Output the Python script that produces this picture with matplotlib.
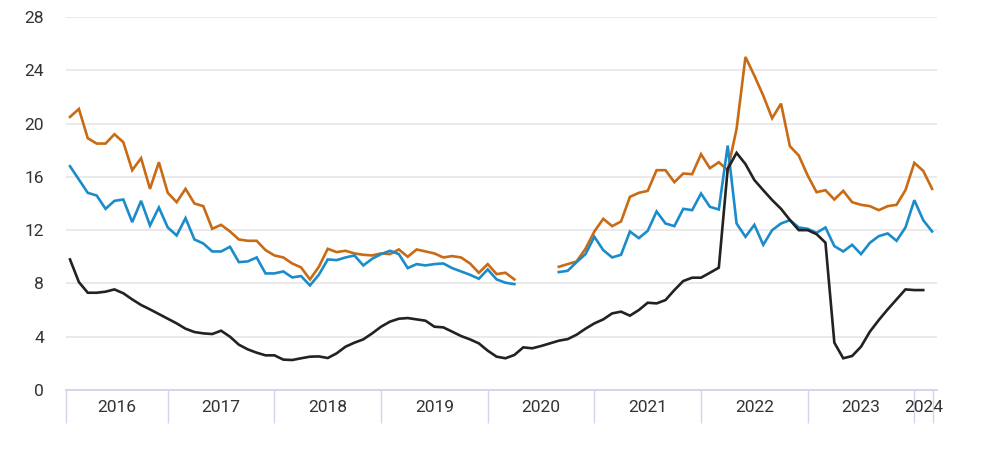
import numpy as np
import pandas as pd
import matplotlib
matplotlib.use("Agg")
import matplotlib.pyplot as plt
from matplotlib.ticker import FixedLocator, NullFormatter

# --- Data: monthly, Feb 2016 .. Mar 2024 ---
months = pd.date_range("2016-02-01", periods=98, freq="MS")
nan = np.nan

orange = [
    20.5, 21.1, 18.9, 18.5, 18.5, 19.2, 18.6, 16.5, 17.4, 15.1, 17.1, 14.8,
    14.1, 15.1, 14.0, 13.8, 12.1, 12.4, 11.9, 11.3, 11.2, 11.2, 10.5, 10.1,
    9.95, 9.5, 9.2, 8.3, 9.25, 10.6, 10.35, 10.45, 10.25, 10.15, 10.1, 10.25,
    10.2, 10.55, 10.0, 10.55, 10.4, 10.25, 9.95, 10.05, 9.95, 9.5, 8.8, 9.45,
    8.7, 8.8, 8.3, nan, nan, nan, nan, 9.25, 9.45, 9.65, 10.6, 11.9,
    12.85, 12.3, 12.65, 14.5, 14.8, 14.95, 16.5, 16.5, 15.6, 16.25, 16.2, 17.7,
    16.65, 17.1, 16.5, 19.6, 25.0, 23.6, 22.1, 20.4, 21.5, 18.3, 17.6, 16.1,
    14.85, 15.0, 14.3, 14.95, 14.1, 13.9, 13.8, 13.5, 13.8, 13.9, 15.0, 17.05,
    16.45, 15.1,
]

blue = [
    16.8, 15.8, 14.8, 14.6, 13.6, 14.2, 14.3, 12.6, 14.2, 12.35, 13.7, 12.2,
    11.6, 12.9, 11.3, 11.0, 10.4, 10.4, 10.75, 9.6, 9.65, 9.95, 8.75, 8.75,
    8.9, 8.45, 8.55, 7.85, 8.65, 9.8, 9.75, 9.95, 10.1, 9.35, 9.85, 10.2,
    10.45, 10.2, 9.15, 9.45, 9.35, 9.45, 9.5, 9.15, 8.9, 8.65, 8.35, 9.05,
    8.3, 8.05, 7.95, nan, nan, nan, nan, 8.85, 8.95, 9.6, 10.2, 11.5,
    10.5, 9.95, 10.15, 11.9, 11.4, 11.95, 13.4, 12.5, 12.3, 13.6, 13.5, 14.75,
    13.75, 13.55, 18.35, 12.5, 11.5, 12.4, 10.9, 12.0, 12.5, 12.75, 12.2, 12.1,
    11.8, 12.2, 10.8, 10.4, 10.9, 10.2, 11.05, 11.55, 11.75, 11.2, 12.2, 14.25,
    12.75, 11.9,
]

black = [
    9.8, 8.1, 7.3, 7.3, 7.38, 7.55, 7.26, 6.8, 6.38, 6.05, 5.7, 5.35,
    5.0, 4.6, 4.35, 4.25, 4.2, 4.45, 4.0, 3.4, 3.05, 2.8, 2.6, 2.6,
    2.28, 2.25, 2.38, 2.5, 2.52, 2.4, 2.75, 3.25, 3.55, 3.8, 4.25, 4.75,
    5.13, 5.35, 5.4, 5.3, 5.2, 4.75, 4.7, 4.38, 4.05, 3.8, 3.5, 2.95,
    2.5, 2.38, 2.63, 3.2, 3.13, 3.3, 3.5, 3.7, 3.82, 4.15, 4.6, 5.0,
    5.3, 5.75, 5.88, 5.58, 6.0, 6.55, 6.5, 6.75, 7.5, 8.18, 8.43, 8.43,
    8.8, 9.18, 16.6, 17.8, 16.96, 15.76, 15.0, 14.26, 13.6, 12.76, 12.0, 12.0,
    11.7, 11.06, 3.55, 2.38, 2.55, 3.25, 4.38, 5.25, 6.05, 6.8, 7.55, 7.5,
    7.5, nan,
]

y_ticks = [0, 4, 8, 12, 16, 20, 24, 28]

# --- Style ---
ORANGE = "#C96A14"
BLUE = "#1B8CCB"
BLACK = "#222222"
GRID = "#E6E6E6"
AXIS = "#D3D6EA"
TEXT = "#333333"

plt.rcParams["font.family"] = ["Roboto", "DejaVu Sans"]

fig = plt.figure(figsize=(10, 4.55), dpi=100)
ax = fig.add_axes([0.066, 0.1429, 0.871, 0.8197])

x = np.arange(len(months))
ax.plot(x, orange, color=ORANGE, lw=1.9, solid_joinstyle="miter", zorder=3)
ax.plot(x, blue, color=BLUE, lw=1.9, solid_joinstyle="miter", zorder=3)
ax.plot(x, black, color=BLACK, lw=1.9, solid_joinstyle="miter", zorder=4)

x_left, x_right = -0.45, 97.55
x_end = len(months) - 0.9
ax.set_xlim(x_left, x_right)
ax.set_ylim(0, 28)

# y axis
ax.set_yticks(y_ticks)
ax.tick_params(axis="y", length=0, pad=16, labelsize=12.5, labelcolor=TEXT)
ax.grid(True, axis="y", color=GRID, lw=1.2)
ax.set_axisbelow(True)

# x axis: year bands, separators at each January
jan_idx = [i for i, m in enumerate(months) if m.month == 1]
edges = [x_left] + jan_idx + [x_end]
years = [months[0].year] + [months[i].year for i in jan_idx]
centers = [(a + b) / 2 for a, b in zip(edges[:-1], edges[1:])]

ax.xaxis.set_major_locator(FixedLocator(edges))
ax.xaxis.set_major_formatter(NullFormatter())
ax.set_xticks(centers, [str(y) for y in years], minor=True)
ax.tick_params(axis="x", which="major", length=24, width=1.0, color=AXIS)
ax.tick_params(axis="x", which="minor", length=0, pad=7, labelsize=12.5,
               labelcolor=TEXT)

for side in ("left", "right", "top"):
    ax.spines[side].set_visible(False)
ax.spines["bottom"].set_color(AXIS)
ax.spines["bottom"].set_linewidth(1.4)

fig.savefig("out.png", dpi=100, facecolor="white")
